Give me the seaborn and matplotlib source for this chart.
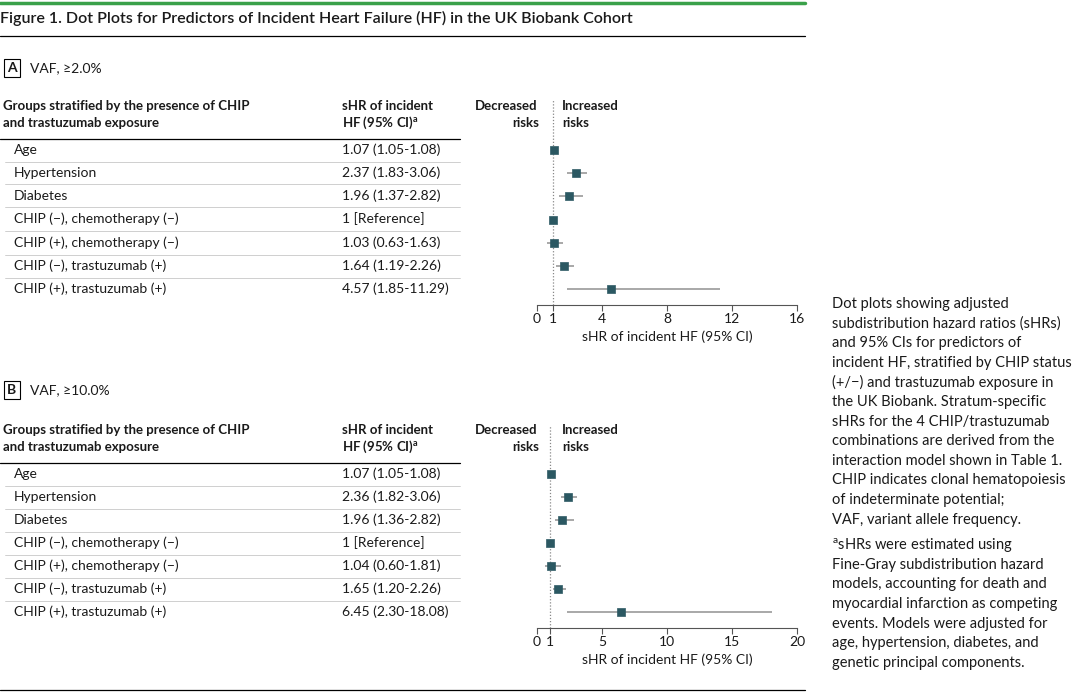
import matplotlib
matplotlib.use("Agg")
import matplotlib.pyplot as plt
import seaborn as sns
import pandas as pd
from matplotlib.patches import Rectangle
from matplotlib.lines import Line2D

sns.set_theme(style="white")
plt.rcParams['font.family'] = ['Lato', 'DejaVu Sans']

groups = ["Age", "Hypertension", "Diabetes", "CHIP (−), chemotherapy (−)",
          "CHIP (+), chemotherapy (−)", "CHIP (−), trastuzumab (+)", "CHIP (+), trastuzumab (+)"]
a_hr = [1.07, 2.37, 1.96, 1.0, 1.03, 1.64, 4.57]
a_lo = [1.05, 1.83, 1.37, 1.0, 0.63, 1.19, 1.85]
a_hi = [1.08, 3.06, 2.82, 1.0, 1.63, 2.26, 11.29]
a_txt = ["1.07 (1.05-1.08)", "2.37 (1.83-3.06)", "1.96 (1.37-2.82)", "1 [Reference]",
         "1.03 (0.63-1.63)", "1.64 (1.19-2.26)", "4.57 (1.85-11.29)"]
b_hr = [1.07, 2.36, 1.96, 1.0, 1.04, 1.65, 6.45]
b_lo = [1.05, 1.82, 1.36, 1.0, 0.60, 1.20, 2.30]
b_hi = [1.08, 3.06, 2.82, 1.0, 1.81, 2.26, 18.08]
b_txt = ["1.07 (1.05-1.08)", "2.36 (1.82-3.06)", "1.96 (1.36-2.82)", "1 [Reference]",
         "1.04 (0.60-1.81)", "1.65 (1.20-2.26)", "6.45 (2.30-18.08)"]
a_ticks = [0, 1, 4, 8, 12, 16]
b_ticks = [0, 1, 5, 10, 15, 20]

W, H = 1080, 695
fig = plt.figure(figsize=(W/100, H/100), dpi=100)
MK = "#2b5862"
GR = "#9a9a9a"

def T(x, y, s, **kw):
    kw.setdefault("fontsize", 10)
    kw.setdefault("va", "center")
    kw.setdefault("color", "#1a1a1a")
    fig.text(x/W, 1-y/H, s, **kw)

def HL(x0, x1, y, color="black", lw=0.8):
    fig.add_artist(Line2D([x0/W, x1/W], [1-y/H, 1-y/H], color=color, lw=lw))

HL(0, 805, 3, color="#3aa14a", lw=2.5)
T(0, 18, "Figure 1. Dot Plots for Predictors of Incident Heart Failure (HF) in the UK Biobank Cohort",
  fontsize=11.5, fontweight="semibold")
HL(0, 805, 36, lw=0.9)

def panel(letter, vaf, ytop, rows_y, hr, lo, hi, txt, ticks, xmax, ax_top, ax_bot):
    fig.add_artist(Rectangle((4/W, 1-(ytop+9)/H), 16/W, 18/H, fill=False, ec="black", lw=0.8))
    T(12, ytop, letter, ha="center", fontsize=10, fontweight="bold")
    T(30, ytop, vaf)
    hy = rows_y[0] - 36
    T(3, hy - 8, "Groups stratified by the presence of CHIP", fontweight="bold", fontsize=9.5)
    T(3, hy + 9, "and trastuzumab exposure", fontweight="bold", fontsize=9.5)
    T(342, hy - 8, "sHR of incident", fontweight="bold", fontsize=9.5)
    T(342, hy + 9, "HF (95% CI)$^{\\mathregular{a}}$", fontweight="bold", fontsize=9.5)
    T(475, hy - 8, "Decreased", fontweight="bold", fontsize=9.5)
    T(539, hy + 9, "risks", fontweight="bold", fontsize=9.5, ha="right")
    T(562, hy - 8, "Increased", fontweight="bold", fontsize=9.5)
    T(562, hy + 9, "risks", fontweight="bold", fontsize=9.5)
    HL(0, 460, rows_y[0] - 11, lw=0.9)
    sp = rows_y[1] - rows_y[0]
    for i, (g, t, y) in enumerate(zip(groups, txt, rows_y)):
        T(14, y, g)
        T(342, y, t)
        if i < 6:
            HL(5, 460, y + sp/2, color="#c8c8c8", lw=0.6)
    x0, x1 = 537, 797
    ax = fig.add_axes([x0/W, 1-ax_bot/H, (x1-x0)/W, (ax_bot-ax_top)/H])
    n = len(rows_y)
    ytop_d = -(rows_y[0]-ax_top)/sp
    ybot_d = (n-1) + (ax_bot-rows_y[-1])/sp
    df = pd.DataFrame({"pos": range(n), "hr": hr, "lo": lo, "hi": hi})
    ax.axvline(1, color="#888888", lw=0.9, ls=(0, (1, 1.5)), zorder=0)
    ax.hlines(df["pos"], df["lo"], df["hi"], color=GR, lw=1.2, zorder=1)
    sns.scatterplot(data=df, x="hr", y="pos", marker="s", s=36, color=MK,
                    edgecolor=MK, ax=ax, zorder=3, legend=False)
    ax.set_ylim(ybot_d, ytop_d)
    ax.set_xlim(0, xmax)
    ax.set_xticks(ticks)
    ax.set_xticklabels([str(t) for t in ticks], fontsize=10, color="#1a1a1a")
    ax.set_yticks([])
    ax.set_ylabel("")
    ax.set_xlabel("sHR of incident HF (95% CI)", fontsize=10, color="#1a1a1a", labelpad=4)
    for s in ["top", "right", "left"]:
        ax.spines[s].set_visible(False)
    ax.spines["bottom"].set_color("#555555")
    ax.spines["bottom"].set_linewidth(0.8)
    ax.tick_params(axis="x", direction="out", length=4, width=0.8, color="#555555", pad=2, bottom=True)
    ax.patch.set_alpha(0)

panel("A", "VAF, ≥2.0%", 68, [150, 173, 196, 219, 243, 266, 289], a_hr, a_lo, a_hi, a_txt,
      a_ticks, 16, 100, 305)
panel("B", "VAF, ≥10.0%", 390, [474, 497, 520, 543, 566, 589, 612], b_hr, b_lo, b_hi, b_txt,
      b_ticks, 20, 425, 628)
HL(0, 805, 690, lw=0.9)

side = ["Dot plots showing adjusted", "subdistribution hazard ratios (sHRs)",
        "and 95% CIs for predictors of", "incident HF, stratified by CHIP status",
        "(+/−) and trastuzumab exposure in", "the UK Biobank. Stratum-specific",
        "sHRs for the 4 CHIP/trastuzumab", "combinations are derived from the",
        "interaction model shown in Table 1.", "CHIP indicates clonal hematopoiesis",
        "of indeterminate potential;", "VAF, variant allele frequency."]
side2 = ["$^{\\mathregular{a}}$sHRs were estimated using", "Fine-Gray subdistribution hazard",
         "models, accounting for death and", "myocardial infarction as competing",
         "events. Models were adjusted for", "age, hypertension, diabetes, and",
         "genetic principal components."]
y = 304
for s in side:
    T(832, y, s, fontsize=10.5)
    y += 19.6
y += 6
for s in side2:
    T(832, y, s, fontsize=10.5)
    y += 19.6

fig.savefig("out.png", dpi=100)
